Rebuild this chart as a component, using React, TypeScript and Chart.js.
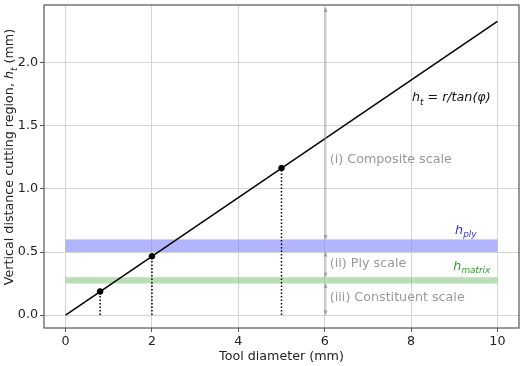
import React, { useEffect, useRef } from "react";
import { Chart, registerables } from "chart.js";

Chart.register(...registerables);

// ---- data ----
const lineX = [0, 10];
const lineY = [0, 2.33];
const toolDiameters = [0.8, 2, 5];
const cutHeights = [0.187, 0.466, 1.166];
const xTicks = [0, 2, 4, 6, 8, 10];
const yTicks = [0, 0.5, 1.0, 1.5, 2.0];
const plyBand = [0.5, 0.6];
const matrixBand = [0.25, 0.3];
const bandX = [0, 10];
const scaleArrowX = 6;
const arrowFrom = [2.44, 0.5, 0.25];
const arrowTo = [0.6, 0.3, 0.0];
const scaleLabels = ["(i) Composite scale", "(ii) Ply scale", "(iii) Constituent scale"];
const scaleLabelX = 6.12;
const scaleLabelY = [1.24, 0.42, 0.145];

const FONT = "'DejaVu Sans', sans-serif";
const FS = 12.7;

type Part = { t: string; italic?: boolean; sub?: boolean };

function partFont(p: Part, size: number) {
  const s = p.sub ? size * 0.7 : size;
  return `${p.italic ? "italic " : ""}${s}px ${FONT}`;
}

function measureParts(ctx: CanvasRenderingContext2D, parts: Part[], size: number) {
  let w = 0;
  for (const p of parts) {
    ctx.font = partFont(p, size);
    w += ctx.measureText(p.t).width;
  }
  return w;
}

function drawParts(ctx: CanvasRenderingContext2D, x: number, y: number, parts: Part[], size: number, color: string) {
  ctx.fillStyle = color;
  ctx.textBaseline = "alphabetic";
  ctx.textAlign = "left";
  let cx = x;
  const base = y + size * 0.35;
  for (const p of parts) {
    ctx.font = partFont(p, size);
    ctx.fillText(p.t, cx, p.sub ? base + size * 0.25 : base);
    cx += ctx.measureText(p.t).width;
  }
}

function arrowHead(ctx: CanvasRenderingContext2D, x: number, y: number, dir: number) {
  ctx.beginPath();
  ctx.moveTo(x, y);
  ctx.lineTo(x - 2, y - dir * 4.5);
  ctx.lineTo(x + 2, y - dir * 4.5);
  ctx.closePath();
  ctx.fill();
}

const overlayPlugin = {
  id: "overlay",
  beforeDatasetsDraw(chart: any) {
    const { ctx, scales } = chart;
    const xs = scales.x, ys = scales.y;
    const x0 = xs.getPixelForValue(bandX[0]);
    const x1 = xs.getPixelForValue(bandX[1]);
    ctx.save();
    ctx.fillStyle = "rgba(125,132,252,0.6)";
    const p0 = ys.getPixelForValue(plyBand[1]);
    const p1 = ys.getPixelForValue(plyBand[0]);
    ctx.fillRect(x0, p0, x1 - x0, p1 - p0);
    ctx.fillStyle = "rgba(130,195,120,0.55)";
    const m0 = ys.getPixelForValue(matrixBand[1]);
    const m1 = ys.getPixelForValue(matrixBand[0]);
    ctx.fillRect(x0, m0, x1 - x0, m1 - m0);
    ctx.restore();
  },
  afterDatasetsDraw(chart: any) {
    const { ctx, scales } = chart;
    const xs = scales.x, ys = scales.y;
    ctx.save();
    const ax = Math.round(xs.getPixelForValue(scaleArrowX)) + 0.5;
    for (let i = 0; i < arrowFrom.length; i++) {
      const ya = ys.getPixelForValue(arrowFrom[i]);
      const yb = ys.getPixelForValue(arrowTo[i]);
      ctx.strokeStyle = "rgba(160,160,160,0.5)";
      ctx.lineWidth = 2;
      ctx.beginPath();
      ctx.moveTo(ax, ya);
      ctx.lineTo(ax, yb);
      ctx.stroke();
      ctx.fillStyle = "rgba(140,140,140,0.7)";
      arrowHead(ctx, ax, ya, -1);
      arrowHead(ctx, ax, yb, 1);
    }
    for (let i = 0; i < scaleLabels.length; i++) {
      drawParts(ctx, xs.getPixelForValue(scaleLabelX), ys.getPixelForValue(scaleLabelY[i]), [{ t: scaleLabels[i] }], FS, "#999999");
    }
    drawParts(ctx, xs.getPixelForValue(9.02), ys.getPixelForValue(0.68),
      [{ t: "h", italic: true }, { t: "ply", italic: true, sub: true }], FS, "#3434d8");
    drawParts(ctx, xs.getPixelForValue(8.98), ys.getPixelForValue(0.39),
      [{ t: "h", italic: true }, { t: "matrix", italic: true, sub: true }], FS, "#2e9a2e");
    drawParts(ctx, xs.getPixelForValue(8.02), ys.getPixelForValue(1.73),
      [{ t: "h", italic: true }, { t: "t", italic: true, sub: true }, { t: " = " }, { t: "r/tan(φ)", italic: true }], FS, "#111111");
    ctx.restore();
  },
  afterDraw(chart: any) {
    const { ctx, chartArea } = chart;
    ctx.save();
    ctx.strokeStyle = "#555555";
    ctx.lineWidth = 1.2;
    ctx.strokeRect(chartArea.left, chartArea.top, chartArea.right - chartArea.left, chartArea.bottom - chartArea.top);
    const xt: Part[] = [{ t: "Tool diameter (mm)" }];
    const wx = measureParts(ctx, xt, FS);
    drawParts(ctx, (chartArea.left + chartArea.right) / 2 - wx / 2, 356, xt, FS, "#222222");
    const yt: Part[] = [
      { t: "Vertical distance cutting region, " },
      { t: "h", italic: true },
      { t: "t", italic: true, sub: true },
      { t: " (mm)" },
    ];
    const wy = measureParts(ctx, yt, FS);
    ctx.translate(9, 157);
    ctx.rotate(-Math.PI / 2);
    drawParts(ctx, -wy / 2, 0, yt, FS, "#222222");
    ctx.restore();
  },
};

export default function App() {
  const ref = useRef<HTMLCanvasElement | null>(null);
  useEffect(() => {
    document.body.style.margin = "0";
    if (!ref.current) return;
    const dotted = toolDiameters.map((d, i) => ({
      type: "line" as const,
      data: [{ x: d, y: 0 }, { x: d, y: cutHeights[i] }],
      borderColor: "#000000",
      borderWidth: 1.5,
      borderDash: [1.5, 2],
      pointRadius: 0,
      showLine: true,
    }));
    const chart = new Chart(ref.current, {
      type: "scatter",
      data: {
        datasets: [
          ...dotted,
          {
            type: "line",
            data: lineX.map((x, i) => ({ x, y: lineY[i] })),
            borderColor: "#000000",
            borderWidth: 1.5,
            pointRadius: 0,
            showLine: true,
          } as any,
          {
            type: "scatter",
            data: toolDiameters.map((x, i) => ({ x, y: cutHeights[i] })),
            backgroundColor: "#000000",
            borderColor: "#000000",
            pointRadius: 2.8,
          },
        ],
      },
      options: {
        animation: false,
        responsive: false,
        devicePixelRatio: 1,
        layout: { padding: { left: 0, right: 6, top: 5, bottom: 0 } },
        plugins: { legend: { display: false }, tooltip: { enabled: false } },
        scales: {
          x: {
            type: "linear",
            min: -0.5,
            max: 10.5,
            afterBuildTicks: (s: any) => { s.ticks = xTicks.map((v) => ({ value: v })); },
            afterFit: (s: any) => { s.height = 38; s.paddingLeft = 0; s.paddingRight = 0; },
            border: { display: false },
            grid: { color: "#d4d4d4", lineWidth: 1, tickLength: 4, tickColor: "#555555" },
            ticks: { color: "#222222", font: { family: FONT, size: FS }, padding: 2, maxRotation: 0, callback: (v: any) => String(v) },
          },
          y: {
            type: "linear",
            min: -0.103,
            max: 2.46,
            afterBuildTicks: (s: any) => { s.ticks = yTicks.map((v) => ({ value: v })); },
            afterFit: (s: any) => { s.width = 44; s.paddingTop = 0; s.paddingBottom = 0; },
            border: { display: false },
            grid: { color: "#d4d4d4", lineWidth: 1, tickLength: 4, tickColor: "#555555" },
            ticks: { color: "#222222", font: { family: FONT, size: FS }, padding: 2, callback: (v: any) => Number(v).toFixed(1) },
          },
        },
      },
      plugins: [overlayPlugin],
    } as any);
    return () => chart.destroy();
  }, []);
  return (
    <div style={{ width: 525, height: 366 }}>
      <canvas ref={ref} width={525} height={366} style={{ display: "block" }} />
    </div>
  );
}
